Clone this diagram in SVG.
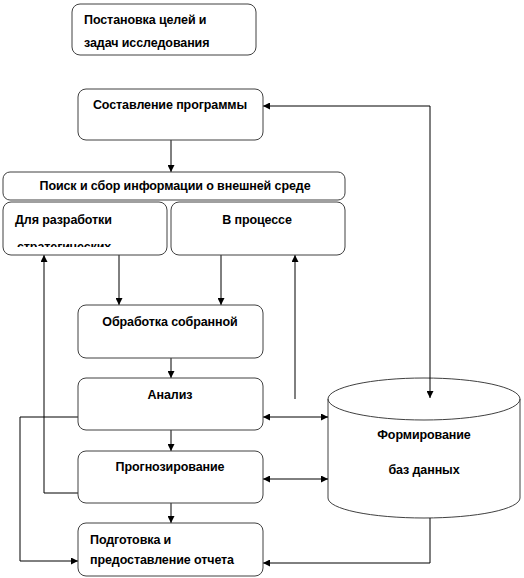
<svg xmlns="http://www.w3.org/2000/svg" width="524" height="578" viewBox="0 0 524 578">
<style>
.b{fill:#fff;stroke:#404040;stroke-width:1}
.t{font-family:"Liberation Sans",Arial,sans-serif;font-weight:bold;font-size:12.5px;fill:#000;letter-spacing:-0.1px}
.c{text-anchor:middle}
.l{fill:none;stroke:#000;stroke-width:1}
</style>
<defs>
<marker id="a" viewBox="0 0 10 10" refX="10" refY="5" markerWidth="7" markerHeight="7" orient="auto-start-reverse" markerUnits="userSpaceOnUse"><path d="M0,0L10,5L0,10z" fill="#000"/></marker>
<clipPath id="cl"><rect x="3" y="202" width="164" height="45"/></clipPath>
</defs>
<rect width="524" height="578" fill="#fff"/>
<g id="db">
<path class="b" d="M328,399V498A96,20 0 0 0 520,498V399A96,21 0 0 0 328,399A96,21 0 0 0 520,399"/>
<text class="t c" x="424" y="439">Формирование</text><text class="t c" x="424" y="474">баз данных</text>
</g>
<g id="connectors">
<path class="l" d="M430,106H263" marker-end="url(#a)"/>
<path class="l" d="M430,106V398" marker-end="url(#a)"/>
<path class="l" d="M171,140V172" marker-end="url(#a)"/>
<path class="l" d="M119,255V305" marker-end="url(#a)"/>
<path class="l" d="M221,255V305" marker-end="url(#a)"/>
<path class="l" d="M295,399V255" marker-end="url(#a)"/>
<path class="l" d="M78,493H44V255" marker-end="url(#a)"/>
<path class="l" d="M171,358V378" marker-end="url(#a)"/>
<path class="l" d="M171,430V451" marker-end="url(#a)"/>
<path class="l" d="M171,503V523" marker-end="url(#a)"/>
<path class="l" d="M78,417H20V561H78" marker-end="url(#a)"/>
<path class="l" d="M263,417H328" marker-start="url(#a)" marker-end="url(#a)"/>
<path class="l" d="M263,479H328" marker-start="url(#a)" marker-end="url(#a)"/>
<path class="l" d="M430,518V563H263" marker-end="url(#a)"/>
</g>
<g id="n1"><rect class="b" x="72" y="4" width="184" height="51" rx="8"/><text class="t" x="84" y="24">Постановка целей и</text><text class="t" x="84" y="47">задач исследования</text></g>
<g id="n2"><rect class="b" x="78" y="89" width="185" height="51" rx="8"/><text class="t c" x="170" y="109">Составление программы</text></g>
<g id="n3"><rect class="b" x="3" y="172" width="342" height="28" rx="7"/><text class="t c" x="175" y="190">Поиск и сбор информации о внешней среде</text></g>
<g id="n4a"><rect class="b" x="3" y="202" width="164" height="53" rx="8"/><text class="t" x="15" y="224">Для разработки</text><text class="t" x="17" y="251" clip-path="url(#cl)">стратегических</text></g>
<g id="n4b"><rect class="b" x="171" y="202" width="174" height="53" rx="8"/><text class="t c" x="257" y="224">В процессе</text></g>
<g id="n5"><rect class="b" x="78" y="305" width="185" height="53" rx="8"/><text class="t c" x="170" y="326">Обработка собранной</text></g>
<g id="n6"><rect class="b" x="78" y="378" width="185" height="52" rx="8"/><text class="t c" x="170" y="399">Анализ</text></g>
<g id="n7"><rect class="b" x="78" y="451" width="185" height="52" rx="8"/><text class="t c" x="170" y="471">Прогнозирование</text></g>
<g id="n8"><rect class="b" x="78" y="523" width="185" height="53" rx="8"/><text class="t" x="90" y="544">Подготовка и</text><text class="t" x="90" y="564">предоставление отчета</text></g>
</svg>
